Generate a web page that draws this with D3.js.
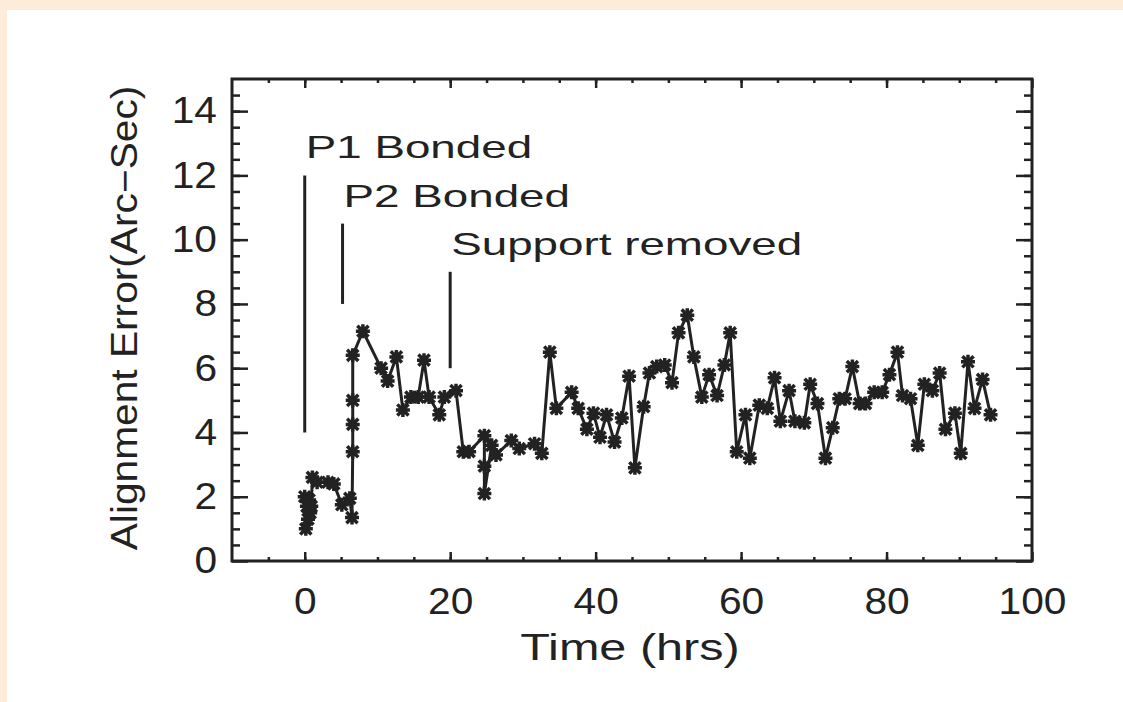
<!DOCTYPE html>
<html>
<head>
<meta charset="utf-8">
<script src="https://cdn.jsdelivr.net/npm/d3@7"></script>
<style>
	html, body { margin: 0; padding: 0; background: #fdecd9; }
	svg { display: block; }
	text { font-family: 'Liberation Sans', Arial, sans-serif; fill: #222; }
</style>
</head>
<body>
<script>
'use strict';

// measurement times (hrs) and alignment error (arc-sec)
const hours = [0, 0.15, 0.3, 0.45, 0.6, 0.75, 0.9, 1.05, 1.7, 3.2, 4.0, 5.1, 6.2, 6.5,
	6.6, 6.6, 6.6, 6.6, 8.0, 10.5, 11.4, 12.6, 13.5, 14.6, 15.6, 16.4, 17.1, 18.5, 19.2, 20.8,
	21.8, 22.6, 24.7, 24.7, 24.7, 25.7, 26.3, 28.4, 29.5, 31.6, 32.6, 33.7, 34.6, 36.7, 37.6,
	38.8, 39.7, 40.6, 41.5, 42.6, 43.6, 44.6, 45.4, 46.6, 47.4, 48.4, 49.5, 50.5, 51.4, 52.6,
	53.5, 54.6, 55.6, 56.7, 57.7, 58.5, 59.4, 60.6, 61.2, 62.5, 63.6, 64.6, 65.4, 66.6, 67.4,
	68.7, 69.5, 70.5, 71.6, 72.6, 73.5, 74.3, 75.3, 76.3, 77.1, 78.3, 79.4, 80.4, 81.5, 82.2,
	83.3, 84.3, 85.2, 86.3, 87.3, 88.1, 89.4, 90.2, 91.2, 92.1, 93.2, 94.3];
const errors = [2.0, 1.0, 1.7, 1.3, 1.9, 1.5, 1.7, 2.6, 2.45, 2.45, 2.4, 1.75, 1.95, 1.35,
	3.4, 4.25, 5.0, 6.4, 7.15, 6.0, 5.6, 6.35, 4.7, 5.1, 5.1, 6.25, 5.1, 4.55, 5.1, 5.3,
	3.4, 3.4, 3.9, 2.95, 2.1, 3.6, 3.3, 3.75, 3.5, 3.65, 3.35, 6.5, 4.75, 5.25, 4.75,
	4.1, 4.6, 3.85, 4.55, 3.7, 4.45, 5.75, 2.9, 4.8, 5.85, 6.05, 6.1, 5.55, 7.1, 7.65,
	6.35, 5.1, 5.8, 5.15, 6.1, 7.1, 3.4, 4.55, 3.2, 4.85, 4.75, 5.7, 4.35, 5.3, 4.35,
	4.3, 5.5, 4.9, 3.2, 4.15, 5.05, 5.05, 6.05, 4.9, 4.9, 5.25, 5.25, 5.8, 6.5, 5.15,
	5.05, 3.6, 5.5, 5.3, 5.85, 4.1, 4.6, 3.35, 6.2, 4.75, 5.65, 4.55];

// event markers
const eventLabels = ['P1 Bonded', 'P2 Bonded', 'Support removed'];
const eventHours = [0, 5.2, 20];
const eventTop = [12.0, 10.5, 9.0];
const eventBottom = [4.0, 8.0, 6.0];

const xMajor = [0, 20, 40, 60, 80, 100];
const xMinor = d3.range(-5, 100, 5);
const yMajor = [0, 2, 4, 6, 8, 10, 12, 14];
const yMinor = d3.range(0.5, 15, 0.5);

const W = 1123, H = 702,
	frame = { left: 232, right: 1032, top: 79, bottom: 561 },
	ink = '#222';

const svg = d3.select('body').append('svg')
	.attr('width', W)
	.attr('height', H);

svg.append('rect')
	.attr('x', 7).attr('y', 10)
	.attr('width', W - 7).attr('height', H - 10)
	.attr('fill', '#fff');

const x = d3.scaleLinear().domain([-10, 100]).range([frame.left, frame.right]),
	y = d3.scaleLinear().domain([0, 15]).range([frame.bottom, frame.top]);

// IDL's wide vector font: widen the text by a factor
const widen = k => sel => sel.each(function () {
	let w = this.getComputedTextLength();
	d3.select(this).attr('textLength', w * k).attr('lengthAdjust', 'spacingAndGlyphs');
});

const styleAxis = g => {
	g.select('.domain').remove();
	g.selectAll('line').attr('stroke', ink).attr('stroke-width', 2.5);
};

// bottom
svg.append('g')
	.attr('transform', `translate(0,${frame.bottom})`)
	.call(d3.axisBottom(x).tickValues(xMinor).tickFormat('').tickSizeInner(-4).tickSizeOuter(0))
	.call(styleAxis);
svg.append('g')
	.attr('transform', `translate(0,${frame.bottom})`)
	.call(d3.axisBottom(x).tickValues(xMajor).tickSizeInner(-9).tickSizeOuter(0).tickPadding(27))
	.call(styleAxis)
	.call(g => g.selectAll('text').attr('font-size', 37).attr('fill', ink).call(widen(1.1)));

// top
svg.append('g')
	.attr('transform', `translate(0,${frame.top})`)
	.call(d3.axisTop(x).tickValues(xMinor).tickFormat('').tickSizeInner(-4).tickSizeOuter(0))
	.call(styleAxis);
svg.append('g')
	.attr('transform', `translate(0,${frame.top})`)
	.call(d3.axisTop(x).tickValues(xMajor).tickFormat('').tickSizeInner(-9).tickSizeOuter(0))
	.call(styleAxis);

// left
svg.append('g')
	.attr('transform', `translate(${frame.left},0)`)
	.call(d3.axisLeft(y).tickValues(yMinor).tickFormat('').tickSizeInner(-8).tickSizeOuter(0))
	.call(styleAxis);
svg.append('g')
	.attr('transform', `translate(${frame.left},0)`)
	.call(d3.axisLeft(y).tickValues(yMajor).tickSizeInner(-16).tickSizeOuter(0).tickPadding(15))
	.call(styleAxis)
	.call(g => g.selectAll('text').attr('font-size', 37).attr('fill', ink).call(widen(1.1)));

// right
svg.append('g')
	.attr('transform', `translate(${frame.right},0)`)
	.call(d3.axisRight(y).tickValues(yMinor).tickFormat('').tickSizeInner(-8).tickSizeOuter(0))
	.call(styleAxis);
svg.append('g')
	.attr('transform', `translate(${frame.right},0)`)
	.call(d3.axisRight(y).tickValues(yMajor).tickFormat('').tickSizeInner(-16).tickSizeOuter(0))
	.call(styleAxis);

svg.append('rect')
	.attr('x', frame.left).attr('y', frame.top)
	.attr('width', frame.right - frame.left).attr('height', frame.bottom - frame.top)
	.attr('fill', 'none')
	.attr('stroke', ink)
	.attr('stroke-width', 3);

// axis titles
svg.append('text')
	.attr('x', 630).attr('y', 660)
	.attr('text-anchor', 'middle')
	.attr('font-size', 36)
	.text('Time (hrs)')
	.call(widen(1.35));

svg.append('text')
	.attr('transform', 'translate(137,318) rotate(-90)')
	.attr('text-anchor', 'middle')
	.attr('font-size', 36)
	.text('Alignment Error(Arc\u2212Sec)')
	.call(widen(1.13));

// event annotations
const events = eventLabels.map((label, i) => ({
	label, h: eventHours[i], top: eventTop[i], bottom: eventBottom[i]
}));

svg.selectAll('line.event').data(events).enter().append('line')
	.attr('class', 'event')
	.attr('x1', d => x(d.h)).attr('x2', d => x(d.h))
	.attr('y1', d => y(d.top)).attr('y2', d => y(d.bottom))
	.attr('stroke', ink)
	.attr('stroke-width', 3);

svg.selectAll('text.event').data(events).enter().append('text')
	.attr('class', 'event')
	.attr('x', d => x(d.h) + 1)
	.attr('y', d => y(d.top) - 17)
	.attr('font-size', 32)
	.text(d => d.label)
	.call(widen(1.43));

// series
const points = hours.map((h, i) => ({ h, v: errors[i] }));

svg.append('path')
	.datum(points)
	.attr('fill', 'none')
	.attr('stroke', ink)
	.attr('stroke-width', 3)
	.attr('stroke-linejoin', 'round')
	.attr('d', d3.line().x(d => x(d.h)).y(d => y(d.v)));

const r = 7, rd = r * 0.8;
const star = `M${-r},0H${r}M0,${-r}V${r}M${-rd},${-rd}L${rd},${rd}M${-rd},${rd}L${rd},${-rd}`;

svg.selectAll('path.star').data(points).enter().append('path')
	.attr('class', 'star')
	.attr('transform', d => `translate(${x(d.h)},${y(d.v)})`)
	.attr('d', star)
	.attr('fill', 'none')
	.attr('stroke', ink)
	.attr('stroke-width', 3.5);
</script>
</body>
</html>
